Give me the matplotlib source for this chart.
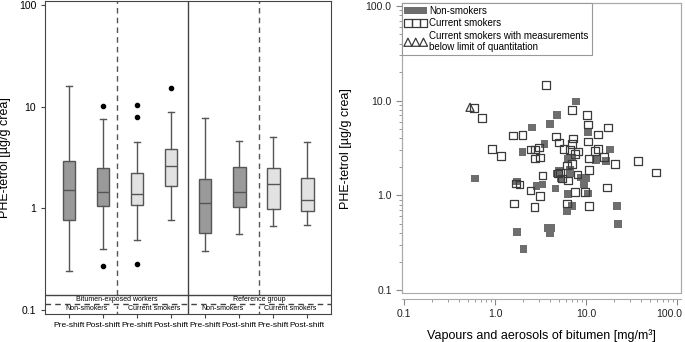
import matplotlib.pyplot as plt
import matplotlib.transforms as mtransforms
from matplotlib.patches import Rectangle
from matplotlib.ticker import FixedLocator, FuncFormatter, LogLocator, NullFormatter

plt.rcParams['font.family'] = ['Liberation Sans', 'DejaVu Sans']

# --- left panel: box statistics ---
shift_labels = ["Pre-shift", "Post-shift"] * 4
whislo = [0.24, 0.40, 0.49, 0.77, 0.38, 0.56, 0.67, 0.69]
q1 = [0.77, 1.05, 1.08, 1.66, 0.57, 1.04, 0.98, 0.94]
med = [1.51, 1.45, 1.38, 2.60, 1.13, 1.45, 1.73, 1.21]
q3 = [2.92, 2.49, 2.22, 3.83, 1.94, 2.55, 2.49, 1.99]
whishi = [16.0, 7.55, 4.49, 8.85, 7.7, 4.6, 5.0, 4.49]
fliers = [[], [10.1, 0.27], [10.3, 7.9, 0.28], [15.2], [], [], [], []]
is_smoker = [False, False, True, True, False, False, True, True]
group_labels = ["Bitumen-exposed workers", "Reference group"]
smoke_labels = ["Non-smokers", "Current smokers"]

# --- right panel: exposure vs PHE-tetrol ---
nonsmk_x = [7.8, 4.8, 4.0, 2.55, 10.5, 3.5, 18.4, 2.0, 7.0, 6.3, 12.9, 16.6,
            6.7, 4.8, 5.3, 8.8, 10.0, 9.5, 10.5, 0.6, 1.75, 2.85, 3.3, 4.6,
            6.3, 7.0, 6.2, 22.0, 22.5, 1.75, 3.8, 4.15, 4.0, 2.05, 5.0, 6.7]
nonsmk_y = [9.8, 7.1, 5.7, 5.2, 4.6, 3.5, 3.05, 2.85, 2.5, 2.45, 2.35, 2.3,
            1.85, 1.7, 1.5, 1.55, 1.5, 1.3, 1.05, 1.5, 1.4, 1.25, 1.3, 1.18,
            1.03, 0.77, 0.68, 0.77, 0.5, 0.41, 0.45, 0.45, 0.40, 0.27, 1.8, 1.7]
smk_x = [0.59, 0.72, 3.6, 7.0, 10.2, 10.5, 17.5, 13.5, 1.58, 2.0, 4.7, 7.2,
         10.5, 5.0, 3.05, 2.75, 2.45, 5.7, 7.0, 13.5, 12.6, 8.2, 7.6, 0.93,
         1.16, 2.75, 3.1, 10.8, 15.8, 20.8, 37.0, 59.0, 6.2, 7.0, 10.8, 3.3,
         5.2, 5.45, 8.0, 1.7, 1.85, 2.45, 3.1, 1.6, 2.7, 6.2, 7.6, 9.7, 10.8,
         17.0, 6.7, 6.3, 4.9]
smk_y = [8.3, 6.6, 14.7, 8.0, 7.1, 5.6, 5.2, 4.4, 4.3, 4.35, 4.2, 4.0,
         3.7, 3.6, 3.2, 3.05, 3.05, 3.1, 3.5, 3.1, 2.95, 2.9, 2.75, 3.1,
         2.6, 2.45, 2.5, 2.45, 2.55, 2.15, 2.3, 1.75, 2.07, 2.15, 1.85, 1.62,
         1.75, 1.5, 1.66, 1.34, 1.3, 1.13, 0.98, 0.82, 0.75, 0.82, 1.08, 1.08, 0.77,
         1.21, 3.0, 1.44, 1.7]
loq_x = [0.53]
loq_y = [8.5]

fig = plt.figure(figsize=(6.85, 3.42), dpi=100)

# ---------------- left: box plots ----------------
ax1 = fig.add_axes([0.066, 0.082, 0.417, 0.915])
positions = list(range(1, 9))
stats = []
for i in range(8):
    stats.append(dict(whislo=whislo[i], q1=q1[i], med=med[i], q3=q3[i],
                      whishi=whishi[i], fliers=fliers[i]))

edge = '#555555'
bp = ax1.bxp(stats, positions=positions, widths=0.38, capwidths=0.16,
             patch_artist=True, showfliers=True,
             boxprops=dict(edgecolor=edge, linewidth=1),
             medianprops=dict(color=edge, linewidth=1),
             whiskerprops=dict(color=edge, linewidth=1),
             capprops=dict(color=edge, linewidth=1),
             flierprops=dict(marker='o', markerfacecolor='black',
                             markeredgecolor='black', markersize=3))
for patch, smk in zip(bp['boxes'], is_smoker):
    patch.set_facecolor('#e2e2e2' if smk else '#9a9a9a')

ax1.set_yscale('log')
ax1.set_ylim(0.091, 110)
ax1.set_xlim(0.3, 8.7)
ax1.yaxis.set_major_locator(FixedLocator([0.1, 1, 10, 100]))
ax1.yaxis.set_major_formatter(FuncFormatter(lambda v, _: f"{v:g}"))
ax1.yaxis.set_minor_locator(FixedLocator([]))
ax1.set_xticks(positions)
ax1.set_xticklabels(shift_labels, fontsize=6)
ax1.tick_params(axis='y', labelsize=7.5, length=3, color='#444444')
ax1.tick_params(axis='x', length=3, pad=3, color='#444444')
ax1.set_ylabel("PHE-tetrol [µg/g crea]", fontsize=9)
ax1.yaxis.set_label_coords(-0.12, 0.5)
for s in ax1.spines.values():
    s.set_color('#444444')

# group separators and the label strip
strip_top, strip_mid = 0.14, 0.114
ax1.axhline(strip_top, color='#444444', lw=1)
ax1.axhline(strip_mid, color='#444444', lw=1, ls='--', dashes=(4, 3))
ax1.axvline(4.5, color='#444444', lw=1)
for xv in (2.42, 6.6):
    ax1.plot([xv, xv], [strip_top, 110], color='#555555', lw=1, ls='--', dashes=(4, 3))
    ax1.plot([xv, xv], [0.091, strip_mid], color='#555555', lw=1, ls='--', dashes=(2, 2))
for j, g in enumerate(group_labels):
    ax1.text(2.42 + 4.18 * j, 0.1265, g, ha='center', va='center', fontsize=5)
    for k, sl in enumerate(smoke_labels):
        ax1.text(1.5 + 4 * j + 2 * k, 0.1025, sl, ha='center', va='center', fontsize=5)

# ---------------- right: scatter ----------------
ax2 = fig.add_axes([0.587, 0.143, 0.407, 0.848])
ax2.set_xscale('log')
ax2.set_yscale('log')
h1 = ax2.scatter(nonsmk_x, nonsmk_y, marker='s', s=30, color='#6e6e6e',
                 edgecolors='none', label='Non-smokers', zorder=3)
h2 = ax2.scatter(smk_x, smk_y, marker='s', s=30, facecolors='none',
                 edgecolors='#3a3a3a', linewidths=0.9, label='Current smokers', zorder=3)
h3 = ax2.scatter(loq_x, loq_y, marker='^', s=34, facecolors='none',
                 edgecolors='#3a3a3a', linewidths=0.9,
                 label='Current smokers with measurements\nbelow limit of quantitation',
                 zorder=3)
ax2.set_xlim(0.095, 110)
ax2.set_ylim(0.093, 107)
major = [0.1, 1, 10, 100]
for axis in (ax2.xaxis, ax2.yaxis):
    axis.set_major_locator(FixedLocator(major))
    axis.set_major_formatter(FuncFormatter(lambda v, _: f"{v:.1f}"))
    axis.set_minor_locator(LogLocator(base=10, subs=range(2, 10)))
    axis.set_minor_formatter(NullFormatter())
ax2.tick_params(which='both', colors='#888888', labelcolor='#222222', labelsize=7.5)
ax2.tick_params(which='major', length=4)
ax2.tick_params(which='minor', length=2)
for s in ax2.spines.values():
    s.set_color('#aaaaaa')
ax2.spines['bottom'].set_position(('outward', 4))
ax2.add_patch(Rectangle((0, 0), 1, 1, transform=ax2.transAxes, fill=False,
                        edgecolor='#aaaaaa', lw=0.8, clip_on=False, zorder=1))
ax2.set_ylabel("PHE-tetrol [µg/g crea]", fontsize=9)
ax2.yaxis.set_label_coords(-0.18, 0.5)
ax2.set_xlabel("Vapours and aerosols of bitumen [mg/m³]", fontsize=9, labelpad=7)
leg = ax2.legend(handles=[h1, h2, h3], loc='upper left', bbox_to_anchor=(0, 1),
                 borderaxespad=0, scatterpoints=3, fontsize=7, frameon=True,
                 fancybox=False, framealpha=1, edgecolor='#999999',
                 handlelength=2.2, handletextpad=0.3, labelspacing=0.25,
                 borderpad=0.3, scatteryoffsets=[0.5])
leg.get_frame().set_linewidth(0.8)

# keep the last x tick label inside the figure
fig.canvas.draw()
last = ax2.xaxis.get_major_ticks()[-1].label1
last.set_transform(last.get_transform() +
                   mtransforms.ScaledTranslation(-6 / 72, 0, fig.dpi_scale_trans))

fig.savefig('out.png', dpi=100)
